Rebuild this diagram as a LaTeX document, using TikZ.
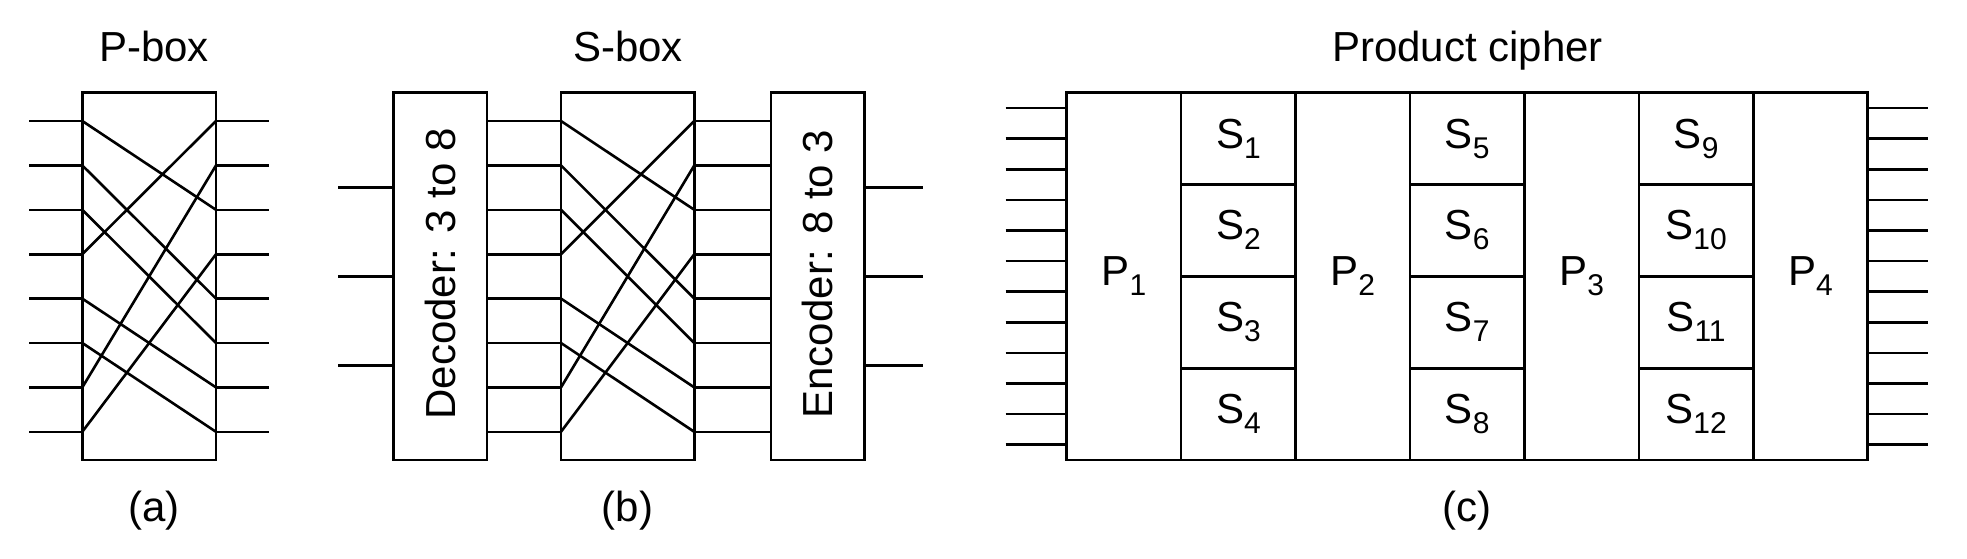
\documentclass[tikz,border=0pt]{standalone}
\usepackage{fontspec}
\setmainfont{Liberation Sans}
\newcommand\lblsub[2]{#1\raisebox{-10pt}{\fontsize{30}{30}\selectfont #2}}
\begin{document}
\begin{tikzpicture}[x=1pt,y=-1pt,
  every node/.style={inner sep=0pt,outer sep=0pt},
  wire/.style={line width=2.6pt},
  boxx/.style={draw,line width=2.7pt,rectangle,inner sep=0pt},
  txt/.style={font=\fontsize{42}{50}\selectfont},
  lab/.style={txt,anchor=base}]
\useasboundingbox (0,0) rectangle (1967,558);

% ---------- (a) P-box ----------
\node[boxx,minimum width=133.7pt,minimum height=367.3pt] (pb) at (149.15,276.35) {};
\node[lab] (pbt) at (154,61) {P-box};
\node[lab] (pbl) at (154,521) {(a)};
\foreach \i in {0,...,7}{
  \coordinate (pbL\i) at (82.3,{121+44.4*\i});
  \coordinate (pbR\i) at (216,{121+44.4*\i});
  \coordinate (pbA\i) at (29.3,{121+44.4*\i});
  \coordinate (pbB\i) at (268.7,{121+44.4*\i});
  \draw[wire] (pbA\i) -- (pbL\i);
  \draw[wire] (pbR\i) -- (pbB\i);
}
\foreach \i/\j in {0/2,1/4,2/5,3/0,4/6,5/7,6/1,7/3}
  \draw[wire] (pbL\i) -- (pbR\j);

% ---------- (b) S-box ----------
\node[boxx,minimum width=93.7pt,minimum height=367.3pt] (dec) at (440.15,276.35) {};
\node[boxx,minimum width=133.3pt,minimum height=367.3pt] (sb) at (627.65,276.35) {};
\node[boxx,minimum width=93.3pt,minimum height=367.3pt] (enc) at (817.65,276.35) {};
\node[txt,rotate=90] (dect) at (440.15,274) {Decoder: 3 to 8};
\node[txt,rotate=90] (enct) at (817.65,274) {Encoder: 8 to 3};
\node[lab] (sbt) at (628,61) {S-box};
\node[lab] (sbl) at (627.5,521) {(b)};
\foreach \i in {0,...,7}{
  \coordinate (dR\i) at (487,{121+44.4*\i});
  \coordinate (sL\i) at (561,{121+44.4*\i});
  \coordinate (sR\i) at (694.3,{121+44.4*\i});
  \coordinate (eL\i) at (771,{121+44.4*\i});
  \draw[wire] (dR\i) -- (sL\i);
  \draw[wire] (sR\i) -- (eL\i);
}
\foreach \i/\j in {0/2,1/4,2/5,3/0,4/6,5/7,6/1,7/3}
  \draw[wire] (sL\i) -- (sR\j);
\foreach \i in {0,1,2}{
  \coordinate (dA\i) at (338.3,{187.3+89*\i});
  \coordinate (dL\i) at (393.3,{187.3+89*\i});
  \coordinate (eR\i) at (864.3,{187.3+89*\i});
  \coordinate (eB\i) at (922.7,{187.3+89*\i});
  \draw[wire] (dA\i) -- (dL\i);
  \draw[wire] (eR\i) -- (eB\i);
}

% ---------- (c) Product cipher ----------
\node[boxx,minimum width=801pt,minimum height=367.3pt] (pc) at (1467.2,276.35) {};
\node[lab] (pct) at (1467.5,61) {Product cipher};
\node[lab] (pcl) at (1467,521) {(c)};
\foreach \k/\n in {0/1,2/2,4/3,6/4}{
  \draw[line width=2.7pt] ({1066.7+114.43*(\k+1)},92.7) -- ({1066.7+114.43*(\k+1)},460);
  \node[lab] (P\n) at ({1066.7+114.43*(\k+0.5)},285.8) {\lblsub{P}{\n}};
}
\foreach \k/\b in {1/0,3/4,5/8}{
  \foreach \r in {0,...,3}{
    \pgfmathtruncatemacro\sn{\b+\r+1}
    \node[boxx,minimum width=114.43pt,minimum height=91.825pt] (S\sn)
      at ({1066.7+114.43*(\k+0.5)},{92.7+91.825*(\r+0.5)}) {};
    \node[lab] (St\sn) at ({1066.7+114.43*(\k+0.5)},{92.7+91.825*(\r+0.5)+9.5}) {\lblsub{S}{\sn}};
  }
}
\foreach \j in {0,...,11}{
  \coordinate (cA\j) at (1005.7,{92.7+30.608*(\j+0.5)});
  \coordinate (cL\j) at (1066.7,{92.7+30.608*(\j+0.5)});
  \coordinate (cR\j) at (1867.7,{92.7+30.608*(\j+0.5)});
  \coordinate (cB\j) at (1928.3,{92.7+30.608*(\j+0.5)});
  \draw[wire] (cA\j) -- (cL\j);
  \draw[wire] (cR\j) -- (cB\j);
}
\end{tikzpicture}
\end{document}
